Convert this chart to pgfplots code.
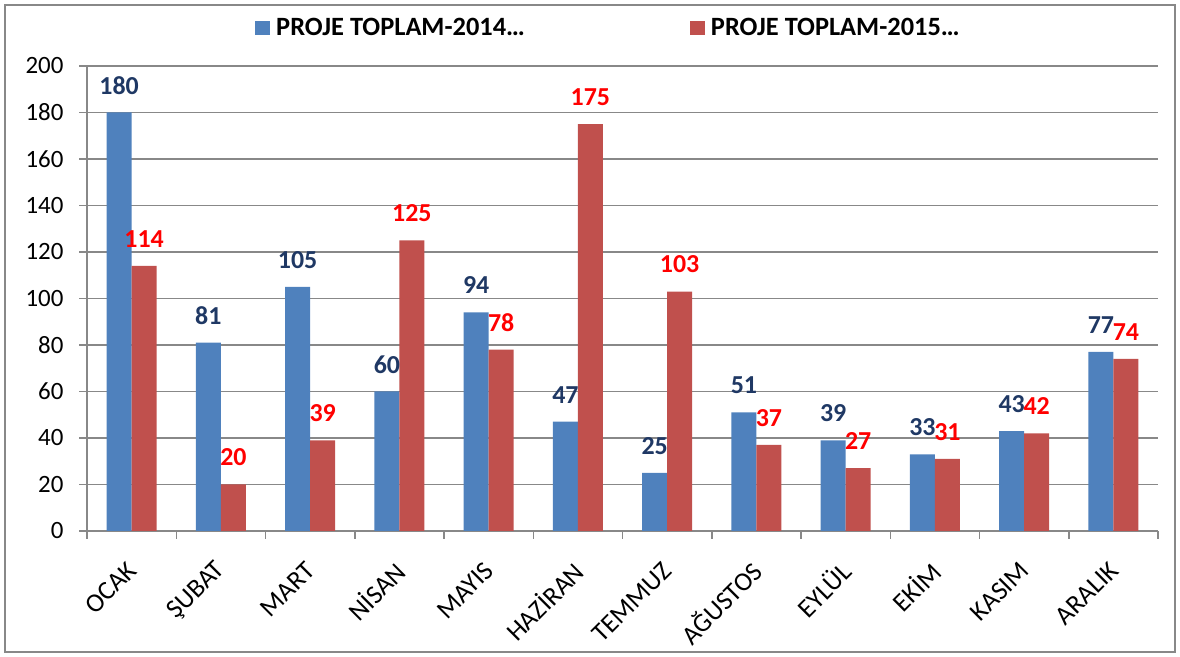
\documentclass[border=0pt]{standalone}
\usepackage{fontspec}
\setmainfont{Carlito}
\usepackage{pgfplots}
\pgfplotsset{compat=1.18}
\definecolor{b1}{HTML}{4F81BD}
\definecolor{r1}{HTML}{C0504D}
\definecolor{navy}{HTML}{1F3864}
\definecolor{gridc}{HTML}{888888}
\begin{document}
\begin{tikzpicture}[x=1bp,y=1bp]
\path[use as bounding box] (0,0) rectangle (1180,657);
\draw[gridc, line width=2bp] (5,5) rectangle (1175,652);
\begin{axis}[
  at={(87bp,126bp)}, anchor=south west,
  scale only axis, width=1071bp, height=465bp,
  xmin=-0.5, xmax=11.5, ymin=0, ymax=200,
  enlargelimits=false,
  /pgf/number format/assume math mode=true,
  ytick={0,20,...,200},
  xtick={-0.5,0.5,...,11.5},
  x tick label as interval,
  xticklabels={OCAK,ŞUBAT,MART,NİSAN,MAYIS,HAZİRAN,TEMMUZ,AĞUSTOS,EYLÜL,EKİM,KASIM,ARALIK},
  x tick label style={xshift=3bp, yshift=-25bp, rotate=45, anchor=east, font=\fontsize{26.5}{30}\selectfont},
  y tick label style={xshift=-12bp, font=\fontsize{25}{30}\selectfont},
  axis lines=left,
  axis line style={gridc, line width=1.5bp, -},
  ymajorgrids,
  grid style={gridc, line width=1.5bp},
  tick style={gridc, line width=1.5bp},
  tick align=outside,
  major tick length=8bp,
  ybar=0pt, bar width=25bp,
  nodes near coords,
  every node near coord/.append style={anchor=center, yshift=27bp, font=\bfseries\fontsize{26}{30}\selectfont},
  legend columns=2,
  legend style={at={(0.1569,1.082)}, anchor=west, draw=none, fill=none, inner sep=0pt,
    font=\bfseries\fontsize{26.5}{30}\selectfont,
    /tikz/every odd column/.append style={column sep=4bp},
    /tikz/every even column/.append style={column sep=163bp}},
  legend image code/.code={\fill[#1] (0bp,-7bp) rectangle (15bp,7bp);},
]
\addplot[fill=b1, draw=none, every node near coord/.append style={text=navy}] coordinates {
(0,180) (1,81) (2,105) (3,60) (4,94) (5,47) (6,25) (7,51) (8,39) (9,33) (10,43) (11,77)};
\addplot[fill=r1, draw=none, every node near coord/.append style={text=red}] coordinates {
(0,114) (1,20) (2,39) (3,125) (4,78) (5,175) (6,103) (7,37) (8,27) (9,31) (10,42) (11,74)};
\legend{PROJE TOPLAM-2014…,PROJE TOPLAM-2015…}
\end{axis}
\end{tikzpicture}
\end{document}
